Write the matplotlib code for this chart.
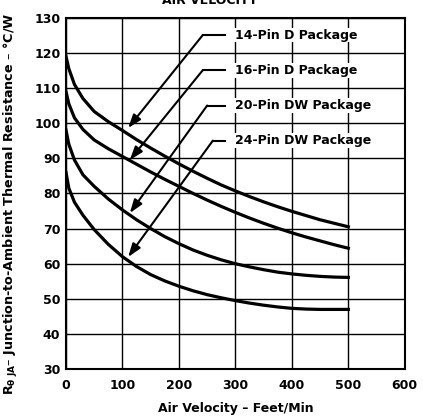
"""
Thermal resistance vs air velocity
"""
import matplotlib
matplotlib.use("Agg")
import matplotlib.pyplot as plt

plt.rcParams["font.family"] = ["DejaVu Sans"]
plt.rcParams["font.weight"] = "bold"
plt.rcParams["mathtext.fontset"] = "dejavusans"
plt.rcParams["mathtext.default"] = "bf"

# air velocity (ft/min)
velocity = [0, 5, 15, 30, 50, 75, 100, 125, 150, 175, 200, 225, 250,
            275, 300, 325, 350, 375, 400, 425, 450, 475, 500]

# junction-to-ambient thermal resistance (°C/W)
pin14_d = [119, 115.5, 111, 107, 103.3, 100.4, 97.9, 95.3, 92.9, 90.6, 88.4,
           86.3, 84.3, 82.4, 80.7, 79.1, 77.6, 76.2, 74.9, 73.7, 72.5, 71.5, 70.5]
pin16_d = [109, 105.5, 101.5, 98.2, 95.2, 92.7, 90.5, 88.3, 86.1, 84.0, 82.0,
           80.0, 78.1, 76.3, 74.6, 73.0, 71.5, 70.1, 68.8, 67.6, 66.5, 65.4, 64.4]
pin20_dw = [98, 94, 89.5, 85.3, 82, 78.4, 75.3, 72.5, 70.0, 67.7, 65.7,
            63.9, 62.4, 61.1, 60.0, 59.1, 58.3, 57.6, 57.1, 56.7, 56.4, 56.2, 56.1]
pin24_dw = [86, 81.5, 77.5, 73.8, 69.7, 65.5, 62, 59.2, 56.9, 55.1, 53.6,
            52.3, 51.2, 50.3, 49.5, 48.8, 48.2, 47.7, 47.3, 47.1, 47.0, 47.0, 47.0]

series = [pin14_d, pin16_d, pin20_dw, pin24_dw]
labels = ["14-Pin D Package", "16-Pin D Package",
          "20-Pin DW Package", "24-Pin DW Package"]

# label positions / leader bends / arrow tips (data units)
label_y = [125, 115, 105, 95]
bend_x = [242, 242, 250, 260]
tips = [(110, 98.6), (113, 89.5), (113, 74.4), (110, 61.9)]

fig = plt.figure(figsize=(4.23, 4.2), dpi=100)
ax = fig.add_axes([0.156, 0.121, 0.801, 0.837])

for vals in series:
    ax.plot(velocity, vals, color="black", lw=2.3, solid_joinstyle="round", zorder=3)

for lab, ly, bx, tip in zip(labels, label_y, bend_x, tips):
    ax.plot([bx, 281], [ly, ly], color="black", lw=1.5, zorder=3)
    ax.annotate("", xy=tip, xytext=(bx, ly),
                arrowprops=dict(arrowstyle="-|>,head_length=0.8,head_width=0.28",
                                color="black", lw=1.5, shrinkA=0, shrinkB=0),
                zorder=4)
    ax.text(299, ly, lab, fontsize=9, fontweight="bold", va="center", ha="left",
            zorder=4, bbox=dict(facecolor="white", edgecolor="none", pad=0.5))

ax.set_xlim(0, 600)
ax.set_ylim(30, 130)
ax.set_xticks(range(0, 601, 100))
ax.set_yticks(range(30, 131, 10))
ax.grid(True, color="black", lw=1.0)
ax.set_axisbelow(True)
ax.tick_params(axis="y", length=0, labelsize=9, pad=4)
ax.tick_params(axis="x", length=0, labelsize=9, pad=7)
for t in ax.get_xticklabels() + ax.get_yticklabels():
    t.set_fontweight("bold")
for s in ax.spines.values():
    s.set_linewidth(1.5)

ax.set_xlabel("Air Velocity – Feet/Min", fontsize=9, fontweight="bold", labelpad=7)
ax.set_ylabel(r"R$_{\theta\ JA}$– Junction-to-Ambient Thermal Resistance – °C/W",
              fontsize=9.2, fontweight="bold")
ax.yaxis.set_label_coords(-0.135, 0.47)

fig.text(0.497, 0.9905, "AIR VELOCITY", ha="center", va="baseline",
         fontsize=9, fontweight="bold")

fig.savefig("out.png", dpi=100)
